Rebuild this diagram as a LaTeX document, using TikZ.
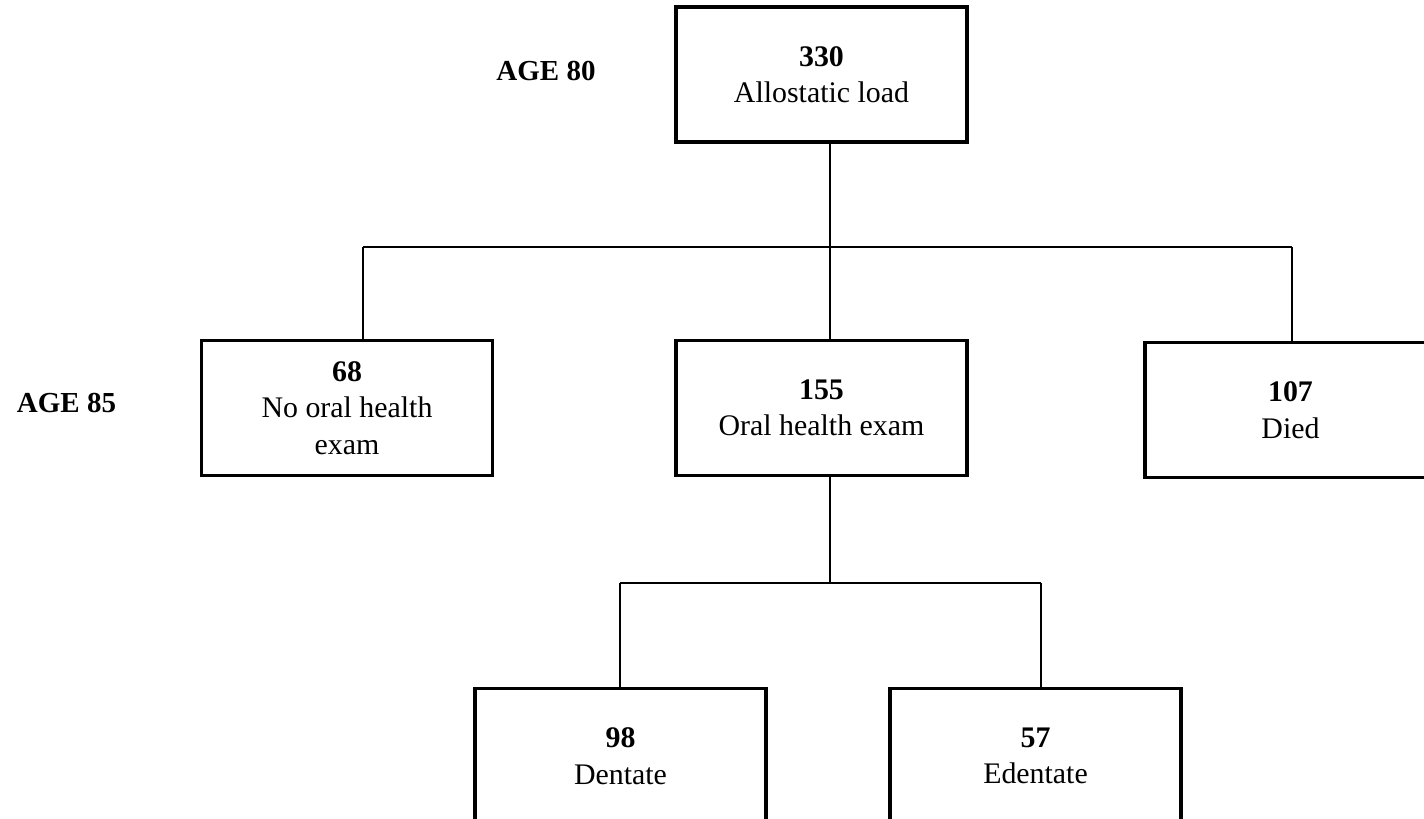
\documentclass[tikz,border=0pt]{standalone}
\usepackage{fontspec}
\setmainfont{Liberation Serif}
\usetikzlibrary{positioning}

\begin{document}
\begin{tikzpicture}[-,thick,box/.style={draw,line width=1.9pt,minimum width=5.82cm,minimum height=2.7cm,align=center,font=\fontsize{17}{20.8}\selectfont},age/.style={font=\fontsize{16.5}{19}\selectfont\bfseries},link/.style={line width=0.9pt}]

                    \useasboundingbox (0,0) rectangle (28.48,-16.36);

                    \node[box]  (load)     at (16.43,-1.49) {\textbf{330}\\Allostatic load};
                    \node[box]  (noexam)   at (6.94,-8.16)  {\textbf{68}\\No oral health\\exam};
                    \node[box]  (exam)     at (16.43,-8.16) {\textbf{155}\\Oral health exam};
                    \node[box]  (died)     at (25.81,-8.2)  {\textbf{107}\\Died};
                    \node[box]  (dentate)  at (12.41,-15.12) {\textbf{98}\\Dentate};
                    \node[box]  (edentate) at (20.71,-15.12) {\textbf{57}\\Edentate};

                    \node[age]  (age80) at (10.92,-1.42) {AGE 80};
                    \node[age]  (age85) at (1.33,-8.06) {AGE 85};

                    % branch points
                    \coordinate (top)  at (16.6,-4.94);
                    \coordinate (topl) at (7.26,-4.94);
                    \coordinate (topr) at (25.84,-4.94);
                    \coordinate (bot)  at (16.6,-11.66);
                    \coordinate (botl) at (12.4,-11.66);
                    \coordinate (botr) at (20.82,-11.66);

                    \draw[link] (load.south -| top) to (exam.north -| top);
                    \draw[link] (topl) to (topr);
                    \draw[link] (topl) to (topl |- noexam.north);
                    \draw[link] (topr) to (topr |- died.north);
                    \draw[link] (exam.south -| bot) to (bot);
                    \draw[link] (botl) to (botr);
                    \draw[link] (botl) to (botl |- dentate.north);
                    \draw[link] (botr) to (botr |- edentate.north);

                    ;
                \end{tikzpicture}
\end{document}
